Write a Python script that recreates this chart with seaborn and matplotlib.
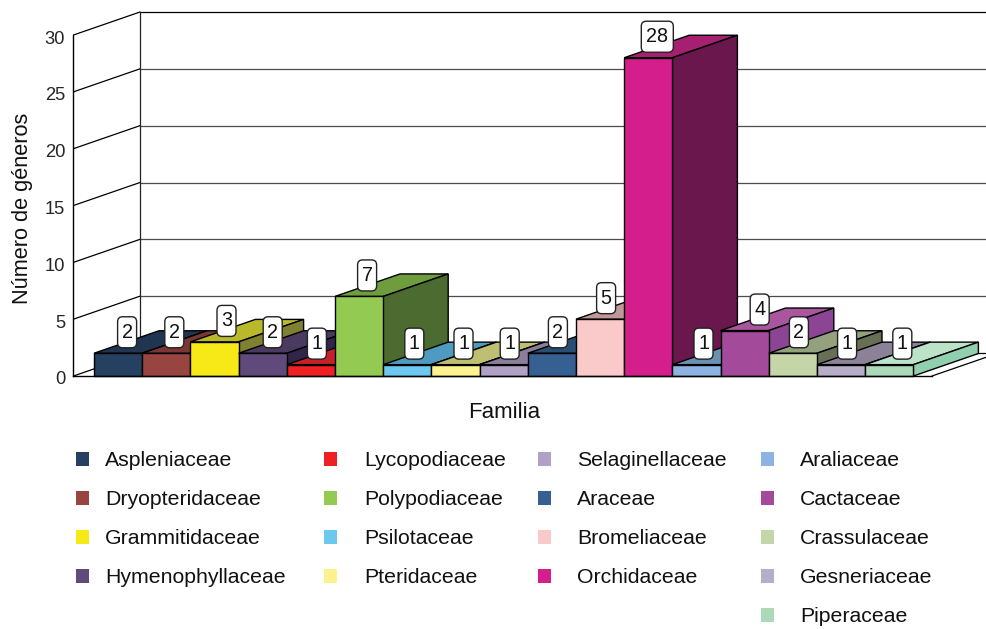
import matplotlib
matplotlib.use("Agg")
import matplotlib.pyplot as plt
import seaborn as sns
import pandas as pd
from matplotlib.patches import Polygon, FancyBboxPatch, Patch
from matplotlib.transforms import IdentityTransform, ScaledTranslation

# ---------- data ----------
families = ["Aspleniaceae", "Dryopteridaceae", "Grammitidaceae", "Hymenophyllaceae",
            "Lycopodiaceae", "Polypodiaceae", "Psilotaceae", "Pteridaceae",
            "Selaginellaceae", "Araceae", "Bromeliaceae", "Orchidaceae",
            "Araliaceae", "Cactaceae", "Crassulaceae", "Gesneriaceae", "Piperaceae"]
genera = [2, 2, 3, 2, 1, 7, 1, 1, 1, 2, 5, 28, 1, 4, 2, 1, 1]
y_ticks = [0, 5, 10, 15, 20, 25, 30]
front_colors = ["#254061", "#984542", "#F6E917", "#604A7B", "#EE2024", "#93CB52",
                "#6DC8F0", "#FCF390", "#B2A1C7", "#366092", "#FAC9C9", "#D41E8C",
                "#8DB3E2", "#A34B9A", "#C4D6A8", "#B7ADC8", "#ACDAB8"]
top_colors = ["#1F3550", "#7C3635", "#B9B92B", "#4A3A60", "#C8202A", "#6E9C3E",
              "#4F9AC0", "#BFBF73", "#8B7E9C", "#2A4D74", "#C09898", "#A52070",
              "#6C90B0", "#A9569F", "#93A17F", "#8C8298", "#BCE2C8"]
side_colors = ["#16263A", "#562625", "#808033", "#30264A", "#801418", "#4B6B30",
               "#386F8C", "#8A8A50", "#5E5570", "#1D3650", "#8A6C6C", "#6A174E",
               "#4A6A88", "#8C4494", "#676F57", "#5E5868", "#90D0AE"]
legend_cols = [families[:4], families[4:8], families[8:12], families[12:]]

# ---------- layout (pixels) ----------
W, H, DPI = 987, 629, 100
PX_LEFT, PX_RIGHT, PX_BASE, PX_TOP = 73.5, 932.0, 376.0, 35.0
STEP = 48.2
FIRST_CENTER = 118.1
DEPTH_X, DEPTH_Y = 65.0, 22.5
WALL_X, WALL_Y = 66.5, 23.0
label_dx = [9, 8, 12, 10, 6, 8, 7, 8, 6, 6, 6, 9, 7, 15, 6, 6, 13]
legend_x = [76, 324, 538, 761]
legend_gap = [16, 27, 26, 26]

sns.set_theme(style="white")
plt.rcParams["font.family"] = ["Liberation Sans", "DejaVu Sans"]
plt.rcParams["text.color"] = "#111111"

fig = plt.figure(figsize=(W / DPI, H / DPI), dpi=DPI, facecolor="white")
ax = fig.add_axes([PX_LEFT / W, 1 - PX_BASE / H,
                   (PX_RIGHT - PX_LEFT) / W, (PX_BASE - PX_TOP) / H])

df = pd.DataFrame({"Familia": families, "Generos": genera})
sns.barplot(data=df, x="Familia", y="Generos", hue="Familia", order=families,
            hue_order=families, palette=front_colors, saturation=1, width=1.0,
            dodge=False, legend=False, edgecolor="black", linewidth=1.0, ax=ax)

x0 = (PX_LEFT - FIRST_CENTER) / STEP
x1 = (PX_RIGHT - FIRST_CENTER) / STEP
ax.set_xlim(x0, x1)
ax.set_ylim(0, 30)
unit = (PX_BASE - PX_TOP) / 30
ddx, ddy = DEPTH_X / STEP, DEPTH_Y / unit
wdx, wdy = WALL_X / STEP, WALL_Y / unit

# walls and gridlines
wall_lw = 0.9
for v in y_ticks:
    ax.plot([x0, x0 + wdx], [v, v + wdy], color="black", lw=wall_lw, clip_on=False, zorder=1)
    ax.plot([x0 + wdx, x1 + wdx], [v + wdy, v + wdy],
            color="black" if v in (0, 30) else "#4d4d4d", lw=wall_lw, clip_on=False, zorder=1)
ax.plot([x0 + wdx, x0 + wdx], [wdy, 30 + wdy], color="#222222", lw=wall_lw, clip_on=False, zorder=1)
ax.plot([x1, x1 + wdx], [0, wdy], color="black", lw=wall_lw, clip_on=False, zorder=1)

# 3-D faces, painted left to right
bars = sorted(ax.patches, key=lambda p: p.get_x())
for i, bar in enumerate(bars):
    left, right = bar.get_x(), bar.get_x() + bar.get_width()
    h = bar.get_height()
    z = 3 + i
    bar.set_zorder(z + 0.5)
    bar.set_clip_on(False)
    ax.add_patch(Polygon([(left, h), (right, h), (right + ddx, h + ddy), (left + ddx, h + ddy)],
                         closed=True, fc=top_colors[i], ec="black", lw=1.0, zorder=z, clip_on=False))
    ax.add_patch(Polygon([(right, 0), (right + ddx, ddy), (right + ddx, h + ddy), (right, h)],
                         closed=True, fc=side_colors[i], ec="black", lw=1.0, zorder=z, clip_on=False))

# value labels
for i, v in enumerate(genera):
    px, py = ax.transData.transform((i, v))
    cx, cy = px + label_dx[i], py + 21
    w = 32 if v >= 10 else 19
    h = 31
    ax.add_patch(FancyBboxPatch((cx - w / 2, cy - h / 2), w, h,
                                boxstyle="round,pad=0,rounding_size=5",
                                transform=IdentityTransform(), fc="white", ec="#222222",
                                lw=1.0, zorder=50, clip_on=False))
    ax.text(cx, cy, str(v), transform=IdentityTransform(), ha="center", va="center",
            fontsize=14.2, zorder=51, clip_on=False)

# axes furniture
for s in ("top", "right"):
    ax.spines[s].set_visible(False)
for s in ("left", "bottom"):
    ax.spines[s].set_visible(True)
    ax.spines[s].set_color("black")
    ax.spines[s].set_linewidth(1.0)
    ax.spines[s].set_zorder(30)
ax.patch.set_alpha(0)
ax.set_xticks([])
ax.set_yticks(y_ticks)
ax.set_yticklabels([str(v) for v in y_ticks], fontsize=13.2)
ax.tick_params(axis="y", length=0, pad=6)
shift = ScaledTranslation(0, -2 / DPI, fig.dpi_scale_trans)
for lbl in ax.get_yticklabels():
    lbl.set_transform(lbl.get_transform() + shift)

ax.set_xlabel("")
ax.set_ylabel("")
fig.text(504.5 / W, 1 - 412 / H, "Familia", fontsize=16, ha="center", va="center")
fig.text(23 / W, 1 - 208 / H, "Número de géneros", fontsize=15.7, rotation=90,
         ha="center", va="center")

# legend: one block per column
color_of = dict(zip(families, front_colors))
fs = 15.3
for col, lx, gap in zip(legend_cols, legend_x, legend_gap):
    handles = [Patch(fc=color_of[n], ec="none", label=n) for n in col]
    fig.legend(handles=handles, loc="upper left",
               bbox_to_anchor=(lx / W, 1 - 451.5 / H), bbox_transform=fig.transFigure,
               frameon=False, fontsize=fs, borderpad=0, borderaxespad=0,
               handlelength=13 / (fs * DPI / 72), handleheight=13 / (fs * DPI / 72),
               handletextpad=gap / (fs * DPI / 72), labelspacing=0.94)

fig.savefig("out.png", dpi=DPI, facecolor="white")
